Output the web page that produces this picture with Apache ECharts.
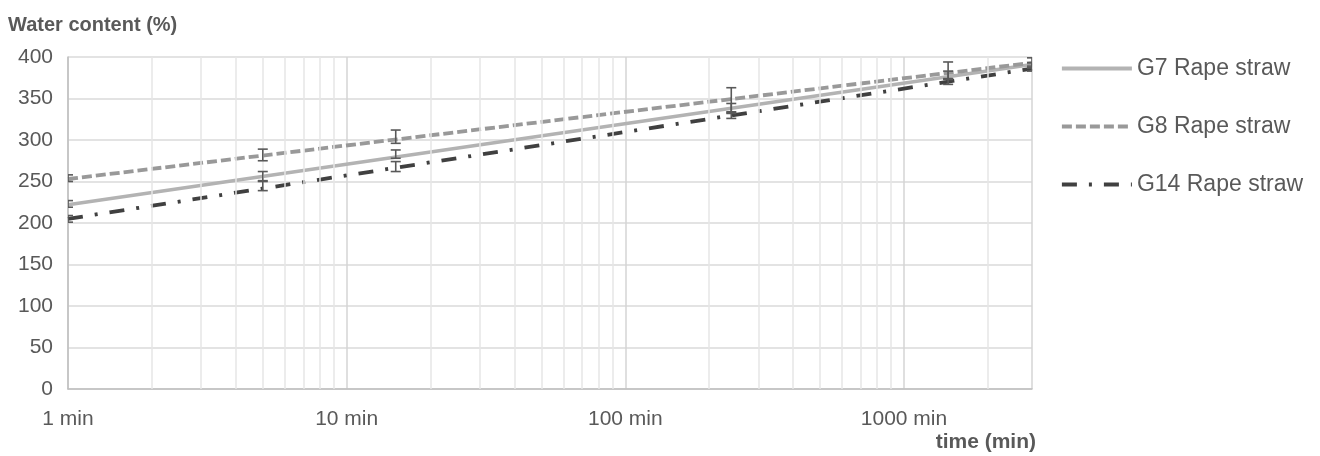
<!DOCTYPE html>
<html>
<head>
<meta charset="utf-8">
<script src="https://cdn.jsdelivr.net/npm/echarts@6/dist/echarts.min.js"></script>
<style>
html,body{margin:0;padding:0;background:#fff;}
#chart{width:1320px;height:456px;}
</style>
</head>
<body>
<div id="chart"></div>
<script>
// ---- data ----
var times = [1, 5, 15, 240, 1440, 2880];
var g7Mean = [223, 256, 283, 338, 378, 390];
var g7Err = [4, 6, 5, 6, 5, 3];
var g8Mean = [254, 282, 304, 348, 384, 393];
var g8Err = [4, 7, 8, 15, 10, 6];
var g14Mean = [205, 245, 268, 330, 370, 386];
var g14Err = [4, 6, 6, 4, 3, 3];
var trendX = [1, 2880];
var g7Trend = [222, 391];
var g8Trend = [253, 393];
var g14Trend = [205, 386];
var minorGrid = [2,3,4,5,6,7,8,9,20,30,40,50,60,70,80,90,200,300,400,500,600,700,800,900,2000];
var seriesNames = ['G7 Rape straw', 'G8 Rape straw', 'G14 Rape straw'];

var FONT = '"Liberation Sans", Arial, sans-serif';
var TXT = '#595959';

function pairs(xs, ys) { return xs.map(function (x, i) { return [x, ys[i]]; }); }
function errData(means, errs) {
  return times.map(function (t, i) { return [t, means[i] - errs[i], means[i] + errs[i]]; });
}
function errSeries(means, errs) {
  return {
    type: 'custom', clip: true, z: 5, silent: true,
    data: errData(means, errs),
    renderItem: function (params, api) {
      var lo = api.coord([api.value(0), api.value(1)]);
      var hi = api.coord([api.value(0), api.value(2)]);
      var w = 5;
      var st = { stroke: '#595959', lineWidth: 1.6 };
      return { type: 'group', children: [
        { type: 'line', shape: { x1: lo[0], y1: lo[1], x2: hi[0], y2: hi[1] }, style: st },
        { type: 'line', shape: { x1: lo[0] - w, y1: lo[1], x2: lo[0] + w, y2: lo[1] }, style: st },
        { type: 'line', shape: { x1: hi[0] - w, y1: hi[1], x2: hi[0] + w, y2: hi[1] }, style: st }
      ]};
    }
  };
}

var chart = echarts.init(document.getElementById('chart'));
chart.setOption({
  animation: false,
  backgroundColor: '#fff',
  textStyle: { fontFamily: FONT },
  grid: { left: 68, right: 288, top: 57, bottom: 67 },
  graphic: [
    { type: 'text', left: 8, top: 15, style: { text: 'Water content (%)', font: 'bold 20px ' + FONT, fill: TXT } },
    { type: 'text', right: 284, top: 432, style: { text: 'time (min)', font: 'bold 21px ' + FONT, fill: TXT } }
  ],
  legend: {
    data: seriesNames,
    orient: 'vertical', left: 1055, top: 52,
    itemWidth: 70, itemHeight: 20, itemGap: 35,
    itemStyle: { opacity: 0 },
    lineStyle: { width: 3.8 },
    textStyle: { color: TXT, fontSize: 23, fontFamily: FONT, padding: [0, 0, 0, 0] }
  },
  xAxis: {
    type: 'log', logBase: 10, min: 1, max: 2880, interval: 1,
    axisLine: { show: true, lineStyle: { color: '#bfbfbf', width: 1.5 } },
    axisTick: { show: false },
    axisLabel: { color: TXT, fontSize: 21, margin: 20, showMaxLabel: false,
      formatter: function (v) { return v + ' min'; } },
    splitLine: { show: true, lineStyle: { color: '#d4d4d4', width: 1.5 } },
    minorTick: { show: false }
  },
  yAxis: {
    type: 'value', min: 0, max: 400, interval: 50,
    axisLine: { show: true, lineStyle: { color: '#bfbfbf', width: 1.5 } },
    axisTick: { show: false },
    axisLabel: { color: TXT, fontSize: 21, margin: 15 },
    splitLine: { show: true, lineStyle: { color: '#dadada', width: 1.5 } }
  },
  series: [
    {
      name: 'minorGrid', type: 'line', data: [], z: 1, silent: true,
      markLine: {
        silent: true, symbol: 'none', label: { show: false },
        lineStyle: { color: '#e6e6e6', width: 1.5, type: 'solid' },
        data: minorGrid.map(function (v) { return { xAxis: v }; })
      }
    },
    {
      name: seriesNames[0], type: 'line', data: pairs(trendX, g7Trend), z: 3,
      symbol: 'none', color: '#b3b3b3',
      lineStyle: { color: '#b3b3b3', width: 3.5, type: 'solid' }
    },
    {
      name: seriesNames[1], type: 'line', data: pairs(trendX, g8Trend), z: 3,
      symbol: 'none', color: '#999999',
      lineStyle: { color: '#999999', width: 3.8, type: [10, 4] }
    },
    {
      name: seriesNames[2], type: 'line', data: pairs(trendX, g14Trend), z: 3,
      symbol: 'none', color: '#404040',
      lineStyle: { color: '#404040', width: 3.8, type: [15, 12, 3, 12] }
    },
    errSeries(g7Mean, g7Err),
    errSeries(g8Mean, g8Err),
    errSeries(g14Mean, g14Err)
  ]
});
</script>
</body>
</html>
